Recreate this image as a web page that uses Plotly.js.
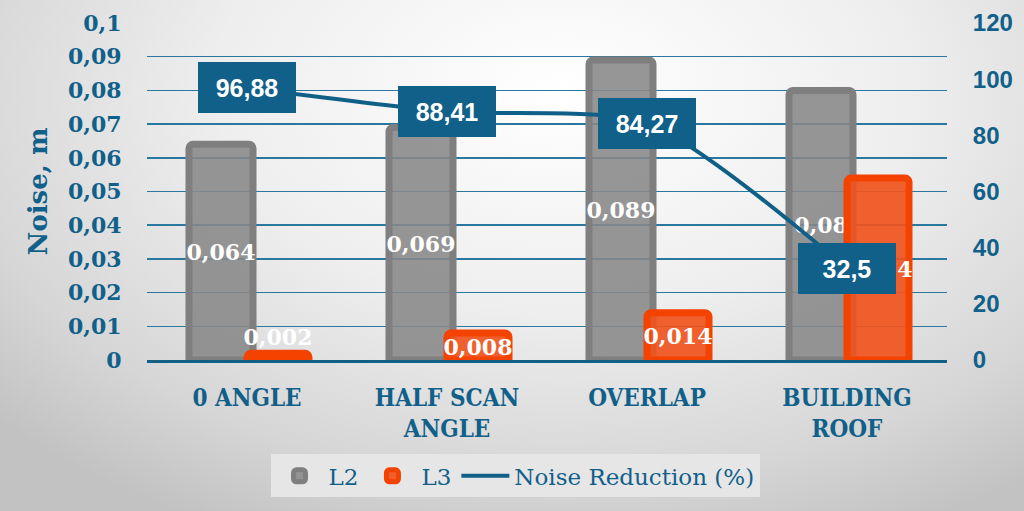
<!DOCTYPE html>
<html>
<head>
<meta charset="utf-8">
<script src="https://cdn.plot.ly/plotly-3.0.1.min.js"></script>
<style>
  html, body { margin: 0; padding: 0; }
  body {
    width: 1024px; height: 511px; overflow: hidden;
    background: radial-gradient(ellipse 75% 95% at 55% 18%, #ffffff 0%, #eeeeee 45%, #d6d6d6 80%, #c2c2c2 100%);
  }
  #chart { width: 1024px; height: 511px; }
</style>
</head>
<body>
<div id="chart"></div>
<script>
var categories = ['0 ANGLE', 'HALF SCAN<br>ANGLE', 'OVERLAP', 'BUILDING<br>ROOF'];
var l2Values = [0.064, 0.069, 0.089, 0.08];
var l3Values = [0.002, 0.008, 0.014, 0.054];
var noiseReduction = [96.88, 88.41, 84.27, 32.5];

var teal = '#11608a';
var slab = '"DejaVu Serif Condensed", "DejaVu Serif", serif';
var slabWide = '"DejaVu Serif", serif';
var sans = '"Liberation Sans", Arial, sans-serif';

function comma(v) { return String(v).replace('.', ','); }

var labelFont = {family: slabWide, size: 22, color: '#ffffff', weight: 'bold'};

var data = [{
    type: 'bar',
    name: 'L2',
    x: categories,
    y: l2Values,
    text: l2Values.map(comma),
    textposition: 'inside',
    constraintext: 'none',
    textangle: 0,
    insidetextanchor: 'middle',
    insidetextfont: labelFont,
    width: 0.32,
    offset: -0.29,
    marker: {
      color: 'rgba(135,135,135,0.88)',
      line: {color: '#7f7f7f', width: 7},
      cornerradius: 4
    },
    cliponaxis: false,
    hoverinfo: 'x+y'
  }, {
    type: 'bar',
    name: 'L3',
    x: categories,
    y: l3Values,
    text: l3Values.map(comma),
    textposition: 'auto',
    constraintext: 'none',
    textangle: 0,
    insidetextanchor: 'middle',
    insidetextfont: labelFont,
    outsidetextfont: labelFont,
    width: 0.31,
    offset: 0,
    marker: {
      color: 'rgba(240,84,30,0.92)',
      line: {color: '#f44200', width: 7},
      cornerradius: 4
    },
    cliponaxis: false,
    hoverinfo: 'x+y'
  }, {
    type: 'scatter',
    mode: 'lines',
    name: 'Noise Reduction (%)',
    x: categories,
    y: noiseReduction,
    yaxis: 'y2',
    line: {color: '#0f5f87', width: 4, shape: 'spline', smoothing: 0.7},
    hoverinfo: 'x+y'
  }];

var annotations = noiseReduction.map(function (v, i) {
  return {
    x: categories[i],
    y: v,
    xref: 'x',
    yref: 'y2',
    text: comma(v),
    showarrow: false,
    font: {family: sans, size: 25, color: '#ffffff', weight: 'bold'},
    bgcolor: '#11608a',
    bordercolor: '#11608a',
    borderwidth: 1,
    borderpad: 5,
    width: 86,
    height: 39
  };
});

var layout = {
  width: 1024,
  height: 511,
  margin: {l: 147, r: 77, t: 23, b: 151},
  paper_bgcolor: 'rgba(0,0,0,0)',
  plot_bgcolor: 'rgba(0,0,0,0)',
  separators: ',.',
  barmode: 'overlay',
  uniformtext: {mode: 'show', minsize: 22},
  showlegend: true,
  legend: {
    orientation: 'h',
    x: 0.46,
    xanchor: 'center',
    y: -0.28,
    yanchor: 'top',
    bgcolor: '#e6e6e6',
    font: {family: slabWide, size: 23, color: teal},
    itemwidth: 48,
    traceorder: 'normal'
  },
  xaxis: {
    type: 'category',
    tickfont: {family: slab, size: 24, color: teal, weight: 'bold'},
    showline: true,
    linecolor: '#135f86',
    linewidth: 3,
    ticks: 'outside',
    ticklen: 14,
    tickcolor: 'rgba(0,0,0,0)',
    showgrid: false,
    fixedrange: true
  },
  yaxis: {
    range: [0, 0.1],
    dtick: 0.01,
    tick0: 0,
    showgrid: true,
    gridcolor: '#2a77a0',
    gridwidth: 1.5,
    zeroline: false,
    ticks: 'outside',
    ticklen: 20,
    tickcolor: 'rgba(0,0,0,0)',
    tickfont: {family: slabWide, size: 22, color: teal, weight: 'bold'},
    title: {text: 'Noise, m', font: {family: slabWide, size: 26, color: teal, weight: 'bold'}, standoff: 12},
    fixedrange: true
  },
  yaxis2: {
    overlaying: 'y',
    side: 'right',
    range: [0, 120],
    dtick: 20,
    showgrid: false,
    zeroline: false,
    ticks: 'outside',
    ticklen: 20,
    tickcolor: 'rgba(0,0,0,0)',
    tickfont: {family: sans, size: 24, color: teal, weight: 'bold'},
    fixedrange: true
  },
  annotations: annotations
};

Plotly.newPlot('chart', data, layout, {displayModeBar: false, staticPlot: true});
</script>
</body>
</html>
